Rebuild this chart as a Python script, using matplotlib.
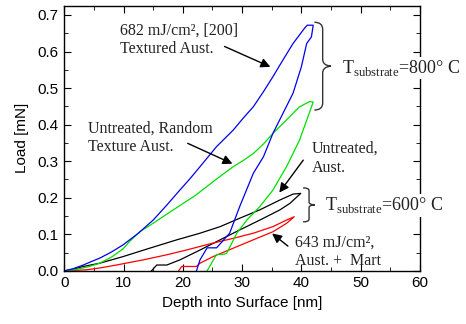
import matplotlib
matplotlib.use("Agg")
import matplotlib.pyplot as plt
from matplotlib.path import Path
from matplotlib.patches import PathPatch

# loading / unloading loops (depth nm, load mN)
blue_x = [0, 1.5, 3.2, 4.5, 6.0, 8.0, 9.9, 12.5, 15.0, 17.3, 19.5, 21.2, 22.9, 25.7, 28.5, 30.2, 31.9,
          33.6, 35.2, 36.9, 38.6, 40.6, 41.0, 42.0,
          41.7, 40.9, 40.0, 38.6, 36.9, 35.2, 33.6, 31.9, 29.6, 27.9, 25.7, 24.1, 22.9, 22.3]
blue_y = [0, 0.006, 0.016, 0.025, 0.035, 0.052, 0.071, 0.103, 0.139, 0.18, 0.221, 0.252, 0.285, 0.34,
          0.385, 0.418, 0.449, 0.49, 0.531, 0.577, 0.622, 0.665, 0.672, 0.672,
          0.64, 0.622, 0.558, 0.486, 0.431, 0.376, 0.312, 0.267, 0.176, 0.103, 0.063, 0.063, 0.03, 0.0]

green_x = [0, 2.0, 4.0, 6.0, 8.0, 9.9, 11.0, 12.8, 14.5, 17.0, 20.1, 22.0, 24.0, 26.0, 28.5, 30.2,
           31.9, 33.6, 35.2, 37.5, 39.7, 41.4, 42.0,
           41.1, 39.7, 37.5, 35.2, 33.0, 30.8, 29.1, 27.4, 26.8, 25.7, 24.1]
green_y = [0, 0.004, 0.011, 0.021, 0.038, 0.06, 0.08, 0.108, 0.125, 0.152, 0.185, 0.205, 0.23, 0.255,
           0.285, 0.302, 0.321, 0.347, 0.376, 0.413, 0.449, 0.463, 0.462,
           0.421, 0.358, 0.285, 0.221, 0.176, 0.139, 0.103, 0.048, 0.045, 0.045, 0.0]

black_x = [0, 1.5, 3.2, 6.0, 9.9, 14.4, 19.0, 22.9, 26.3, 29.6, 33.0, 36.4, 38.6, 39.9,
           38.1, 36.4, 33.0, 29.6, 26.3, 22.9, 19.5, 17.3, 15.6, 14.7]
black_y = [0, 0.004, 0.012, 0.021, 0.039, 0.062, 0.085, 0.103, 0.121, 0.144, 0.167, 0.194, 0.21,
           0.212, 0.185, 0.167, 0.139, 0.112, 0.085, 0.057, 0.03, 0.016, 0.016, 0.0]

red_x = [0, 3.8, 6.0, 8.8, 13.3, 17.3, 20.6, 25.1, 28.5, 31.9, 35.2, 37.5, 38.8,
         37.5, 35.2, 31.9, 28.5, 25.1, 22.9, 22.3, 19.8, 19.3]
red_y = [0, 0.003, 0.008, 0.016, 0.03, 0.044, 0.057, 0.076, 0.089, 0.103, 0.121, 0.139, 0.148,
         0.13, 0.107, 0.085, 0.062, 0.039, 0.021, 0.012, 0.012, 0.0]

serif = ["Liberation Serif", "DejaVu Serif"]
plt.rcParams["font.family"] = ["Liberation Sans", "DejaVu Sans"]
plt.rcParams["mathtext.fontset"] = "custom"
plt.rcParams["mathtext.rm"] = "Liberation Serif"

fig = plt.figure(figsize=(4.66, 3.24), dpi=100)
ax = fig.add_axes([0.138, 0.164, 0.763, 0.818])

ax.plot(black_x, black_y, color="black", lw=0.9)
ax.plot(red_x, red_y, color="red", lw=0.9)
ax.plot(green_x, green_y, color="#00e000", lw=0.9)
ax.plot(blue_x, blue_y, color="#0000ee", lw=0.9)

ax.set_xlim(0, 60)
ax.set_ylim(0, 0.725)
ax.set_xticks(range(0, 61, 10))
ax.set_xticks(range(5, 60, 10), minor=True)
ax.set_yticks([i / 10 for i in range(8)])
ax.set_yticks([0.05 + i / 10 for i in range(7)], minor=True)
ax.set_yticklabels(["0.0", "0.1", "0.2", "0.3", "0.4", "0.5", "0.6", "0.7"])
ax.tick_params(which="both", direction="in", top=True, right=True, labelsize=11, pad=4)
ax.tick_params(which="major", length=5)
ax.tick_params(which="minor", length=3)
for s in ax.spines.values():
    s.set_linewidth(1.0)
ax.set_xlabel("Depth into Surface [nm]", fontsize=11, labelpad=4)
ax.set_ylabel("Load [mN]", fontsize=11, labelpad=6)

arrow = dict(arrowstyle="-|>", color="black", lw=1.0, mutation_scale=14)
tcol = "#222222"
fs = 11.5
ax.annotate("", xy=(35.2, 0.555), xytext=(26.6, 0.617), arrowprops=arrow)
ax.text(9.4, 0.68, "682 mJ/cm², [200]\nTextured Aust.", family=serif, fontsize=fs,
        color=tcol, va="top", ha="left", linespacing=1.25)
ax.annotate("", xy=(28.8, 0.29), xytext=(20.4, 0.352), arrowprops=arrow)
ax.text(4.0, 0.412, "Untreated, Random\nTexture Aust.", family=serif, fontsize=fs,
        color=tcol, va="top", ha="left", linespacing=1.25)
ax.annotate("", xy=(36.0, 0.208), xytext=(40.6, 0.309), arrowprops=arrow)
ax.text(41.8, 0.355, "Untreated,\nAust.", family=serif, fontsize=fs,
        color=tcol, va="top", ha="left", linespacing=1.25)
ax.annotate("", xy=(34.7, 0.107), xytext=(38.1, 0.063), arrowprops=arrow)
ax.text(38.9, 0.1, "643 mJ/cm²,\nAust. +  Mart", family=serif, fontsize=fs,
        color=tcol, va="top", ha="left", linespacing=1.25)


def brace(x, y0, y1, w):
    ym = (y0 + y1) / 2
    r = (y1 - y0) * 0.08
    verts = [(x - w, y1), (x, y1), (x, y1 - r), (x, ym + r),
             (x, ym), (x + w, ym), (x + w, ym),
             (x + w, ym), (x, ym), (x, ym - r),
             (x, y0 + r), (x, y0), (x - w, y0)]
    codes = [Path.MOVETO, Path.CURVE3, Path.CURVE3, Path.LINETO,
             Path.CURVE4, Path.CURVE4, Path.CURVE4,
             Path.CURVE4, Path.CURVE4, Path.CURVE4,
             Path.LINETO, Path.CURVE3, Path.CURVE3]
    ax.add_patch(PathPatch(Path(verts, codes), fill=False, lw=1.0, color="#333333", clip_on=False))


brace(43.6, 0.44, 0.68, 1.4)
brace(41.3, 0.134, 0.227, 1.0)

tbox = dict(facecolor="white", edgecolor="none", pad=1)
ax.text(46.8, 0.555, r"T$_{\mathrm{substrate}}$=800° C", family=serif, fontsize=13,
        color=tcol, va="center", ha="left", bbox=tbox, clip_on=False, zorder=5)
ax.text(44.0, 0.18, r"T$_{\mathrm{substrate}}$=600° C", family=serif, fontsize=13,
        color=tcol, va="center", ha="left", bbox=tbox, clip_on=False, zorder=5)

fig.savefig("out.png", dpi=100)
